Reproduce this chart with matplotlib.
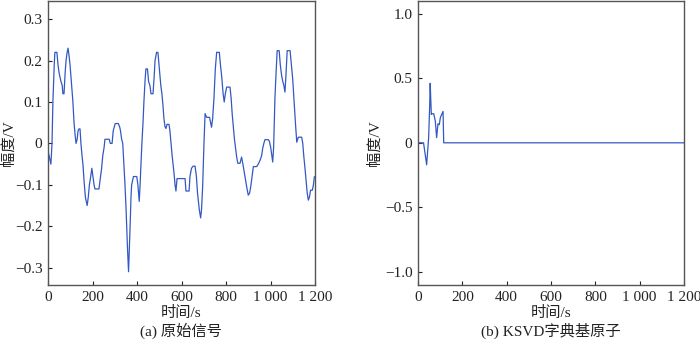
import numpy as np
import matplotlib.pyplot as plt

plt.rcParams['font.family'] = ['Liberation Serif', 'Noto Sans CJK SC']

# (a) original signal (time s, amplitude V)
t_sig = [0, 5, 13, 18, 22, 28, 31, 40, 45, 50, 58, 64, 67, 72, 77, 81, 86, 90, 95, 99,
         105, 112, 117, 122, 126, 131, 135, 139, 144, 148, 153, 157, 162, 168, 176, 181,
         186, 192, 197, 202, 207, 211, 229, 234, 241, 246, 252, 256, 275, 280, 288, 293,
         302, 316, 322, 326, 331, 336, 341, 346, 351, 357, 362, 366, 369, 373, 376, 384,
         399, 404, 410, 414, 417, 422, 427, 431, 436, 440, 447, 452, 458, 463, 472, 477,
         481, 488, 494, 499, 507, 512, 517, 521, 526, 530, 535, 544, 548, 553, 558, 562,
         566, 571, 575, 580, 616, 620, 634, 638, 645, 652, 661, 667, 672, 680, 686, 690,
         695, 701, 706, 713, 726, 731, 735, 740, 746, 752, 758, 770, 775, 781, 787, 792,
         797, 803, 818, 823, 828, 833, 838, 848, 853, 863, 870, 876, 882, 888, 893, 900,
         906, 911, 917, 923, 938, 945, 953, 960, 965, 970, 975, 990, 995, 1001, 1006, 1010,
         1014, 1017, 1020, 1025, 1030, 1039, 1044, 1050, 1055, 1060, 1065, 1070, 1075, 1088,
         1094, 1100, 1106, 1112, 1118, 1125, 1140, 1145, 1150, 1155, 1160, 1165, 1170, 1175,
         1180, 1188, 1193, 1197, 1200]
v_sig = [-0.02, -0.03, -0.05, 0.0, 0.10, 0.19, 0.22, 0.22, 0.19, 0.17, 0.15, 0.14, 0.12, 0.12,
         0.17, 0.20, 0.22, 0.23, 0.21, 0.19, 0.15, 0.10, 0.05, 0.02, 0.00, 0.01, 0.03, 0.035,
         0.035, 0.00, -0.03, -0.05, -0.09, -0.13, -0.15, -0.13, -0.10, -0.08, -0.06, -0.08,
         -0.10, -0.11, -0.11, -0.09, -0.06, -0.03, -0.01, 0.01, 0.01, 0.00, 0.00, 0.03, 0.048,
         0.048, 0.04, 0.03, 0.01, 0.0, -0.05, -0.10, -0.16, -0.25, -0.31, -0.25, -0.20, -0.13,
         -0.10, -0.08, -0.08, -0.10, -0.14, -0.10, -0.06, 0.00, 0.05, 0.10, 0.15, 0.18, 0.18,
         0.15, 0.14, 0.12, 0.12, 0.16, 0.20, 0.22, 0.22, 0.19, 0.14, 0.12, 0.09, 0.06, 0.04,
         0.036, 0.046, 0.046, 0.03, 0.0, -0.03, -0.05, -0.07, -0.10, -0.115, -0.085, -0.085,
         -0.115, -0.115, -0.08, -0.06, -0.055, -0.055, -0.08, -0.12, -0.16, -0.18, -0.16,
         -0.105, 0.0, 0.072, 0.063, 0.063, 0.05, 0.039, 0.06, 0.11, 0.18, 0.22, 0.22, 0.19,
         0.16, 0.12, 0.10, 0.12, 0.136, 0.136, 0.11, 0.07, 0.039, 0.01, -0.033, -0.048, -0.048,
         -0.033, -0.05, -0.07, -0.09, -0.105, -0.125, -0.12, -0.105, -0.08, -0.056, -0.056,
         -0.05, -0.041, -0.03, -0.012, 0.0, 0.009, 0.009, 0.005, -0.01, -0.03, -0.045, -0.01,
         0.05, 0.11, 0.17, 0.224, 0.224, 0.19, 0.164, 0.15, 0.14, 0.124, 0.17, 0.224, 0.224,
         0.19, 0.154, 0.10, 0.05, 0.003, 0.015, 0.015, 0.0, -0.033, -0.06, -0.09, -0.12,
         -0.137, -0.13, -0.113, -0.113, -0.10, -0.081, -0.08]

# (b) KSVD dictionary atom
t_atom = [0, 25, 39, 48, 53, 55, 60, 62, 71, 78, 84, 90, 96, 101, 113, 116, 1200]
v_atom = [0, 0, -0.17, 0.04, 0.30, 0.46, 0.22, 0.225, 0.225, 0.17, 0.04, 0.147, 0.14,
          0.196, 0.243, 0, 0]

xticks = [0, 200, 400, 600, 800, 1000, 1200]
xticklabels = ['0', '200', '400', '600', '800', '1 000', '1 200']
yticks_a = [-0.3, -0.2, -0.1, 0, 0.1, 0.2, 0.3]
yticklabels_a = ['\u22120.3', '\u22120.2', '\u22120.1', '0', '0.1', '0.2', '0.3']
yticks_b = [-1.0, -0.5, 0, 0.5, 1.0]
yticklabels_b = ['\u22121.0', '\u22120.5', '0', '0.5', '1.0']

line_color = '#3358c4'
cn = ['Liberation Serif', 'Noto Sans CJK SC']

fig = plt.figure(figsize=(7, 3.47), dpi=100)
ax1 = fig.add_axes([48 / 700, 1 - 285 / 347, 267 / 700, 284 / 347])
ax2 = fig.add_axes([418 / 700, 1 - 285 / 347, 266 / 700, 284 / 347])

ax1.plot(t_sig, v_sig, color=line_color, lw=0.9)
ax2.plot(t_atom, v_atom, color=line_color, lw=0.9)

ax1.set_ylim(-0.342, 0.344)
ax2.set_ylim(-1.1, 1.097)

for ax, yt, ytl in [(ax1, yticks_a, yticklabels_a), (ax2, yticks_b, yticklabels_b)]:
    ax.set_xlim(0, 1200)
    ax.set_xticks(xticks)
    ax.set_xticklabels(xticklabels)
    ax.set_yticks(yt)
    ax.set_yticklabels(ytl)
    ax.tick_params(direction='in', length=3, width=0.8, labelsize=11, colors='#222222',
                   pad=4)
    for s in ax.spines.values():
        s.set_color('#555555')
        s.set_linewidth(1.0)

fig.text(9 / 700, 1 - 143 / 347, '幅度/V', rotation=90, ha='center', va='center',
         fontsize=11, family=cn, color='#222222')
fig.text(375 / 700, 1 - 143 / 347, '幅度/V', rotation=90, ha='center', va='center',
         fontsize=11, family=cn, color='#222222')
fig.text(181 / 700, 1 - 313 / 347, '时间/s', ha='center', va='center', fontsize=11,
         family=cn, color='#222222')
fig.text(551 / 700, 1 - 313 / 347, '时间/s', ha='center', va='center', fontsize=11,
         family=cn, color='#222222')
fig.text(181 / 700, 1 - 331 / 347, '(a) 原始信号', ha='center', va='center', fontsize=11,
         family=cn, color='#222222')
fig.text(551 / 700, 1 - 331 / 347, '(b) KSVD字典基原子', ha='center', va='center',
         fontsize=11, family=cn, color='#222222')

fig.savefig('out.png', dpi=100)
